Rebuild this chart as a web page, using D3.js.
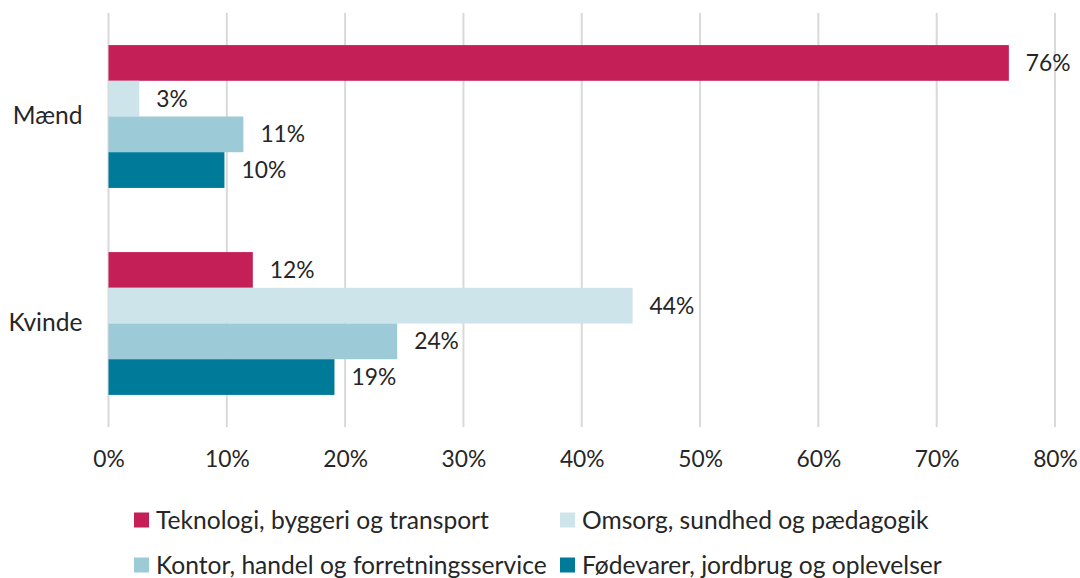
<!DOCTYPE html>
<html><head><meta charset="utf-8">
<script src="https://cdn.jsdelivr.net/npm/d3@7"></script>
<style>
html,body{margin:0;padding:0;background:#fff;}
svg{display:block;font-family:"Lato","Open Sans",sans-serif;}
</style></head>
<body>
<svg id="chart" width="1080" height="578"></svg>
<script>
const categories = ["Mænd", "Kvinde"];
const seriesNames = ["Teknologi, byggeri og transport", "Omsorg, sundhed og pædagogik", "Kontor, handel og forretningsservice", "Fødevarer, jordbrug og oplevelser"];
const seriesColors = ["#C42057", "#CDE4EA", "#9CCAD6", "#007A99"];
const maendValues = [0.761, 0.026, 0.114, 0.098];
const kvindeValues = [0.122, 0.443, 0.244, 0.191];
const tickValues = [0, 0.1, 0.2, 0.3, 0.4, 0.5, 0.6, 0.7, 0.8];

const valuesByCat = {"Mænd": maendValues, "Kvinde": kvindeValues};
const svg = d3.select("#chart");
const textColor = "#262626";
const fsText = 24.6;
const fsNum = 22.8;
const ff = "Lato, 'Open Sans', sans-serif";

const x = d3.scaleLinear().domain([0, 0.8]).range([108.5, 1055]);
const y0 = d3.scaleBand().domain(categories).range([13, 427]).paddingInner(0.31).paddingOuter(0.155);
const y1 = d3.scaleBand().domain(seriesNames).range([0, y0.bandwidth()]).padding(0);
const pct = d3.format(".0%");

// gridlines
svg.append("g").selectAll("line").data(tickValues).join("line")
  .attr("x1", d => x(d)).attr("x2", d => x(d))
  .attr("y1", 13).attr("y2", 427)
  .attr("stroke", "#D9D9D9").attr("stroke-width", 2);

// x axis labels
const xAxis = d3.axisBottom(x).tickValues(tickValues).tickFormat(pct).tickSize(0).tickPadding(0);
const gx = svg.append("g").attr("transform", "translate(0,451)").call(xAxis);
gx.select(".domain").remove();
gx.selectAll("text").attr("font-size", fsNum).attr("fill", textColor).attr("font-family", ff);

// y axis labels
const yAxis = d3.axisLeft(y0).tickSize(0).tickPadding(26);
const gy = svg.append("g").attr("transform", "translate(108.5,0)").call(yAxis);
gy.select(".domain").remove();
gy.selectAll("text").attr("font-size", fsText).attr("fill", textColor).attr("font-family", ff);

// bars
const groups = svg.append("g").selectAll("g").data(categories).join("g")
  .attr("transform", d => `translate(0,${y0(d)})`);
groups.selectAll("rect").data(c => seriesNames.map((s, i) => ({s, i, v: valuesByCat[c][i]}))).join("rect")
  .attr("x", x(0))
  .attr("y", d => y1(d.s))
  .attr("width", d => x(d.v) - x(0))
  .attr("height", y1.bandwidth())
  .attr("fill", d => seriesColors[d.i]);
groups.selectAll("text").data(c => seriesNames.map((s, i) => ({s, i, v: valuesByCat[c][i]}))).join("text")
  .attr("x", d => x(d.v) + 17)
  .attr("y", d => y1(d.s) + y1.bandwidth() / 2)
  .attr("dy", "0.35em")
  .attr("font-size", fsNum).attr("fill", textColor)
  .text(d => pct(d.v));

// legend
const legendPos = [[134, 520], [560, 520], [134, 565], [560, 565]];
const lg = svg.append("g").selectAll("g").data(seriesNames).join("g")
  .attr("transform", (d, i) => `translate(${legendPos[i][0]},${legendPos[i][1]})`);
lg.append("rect").attr("x", 0).attr("y", -7.5).attr("width", 15).attr("height", 15)
  .attr("fill", (d, i) => seriesColors[i]);
lg.append("text").attr("x", 22).attr("y", 0).attr("dy", "0.35em")
  .attr("font-size", fsText).attr("fill", textColor).text(d => d);
</script>
</body></html>
